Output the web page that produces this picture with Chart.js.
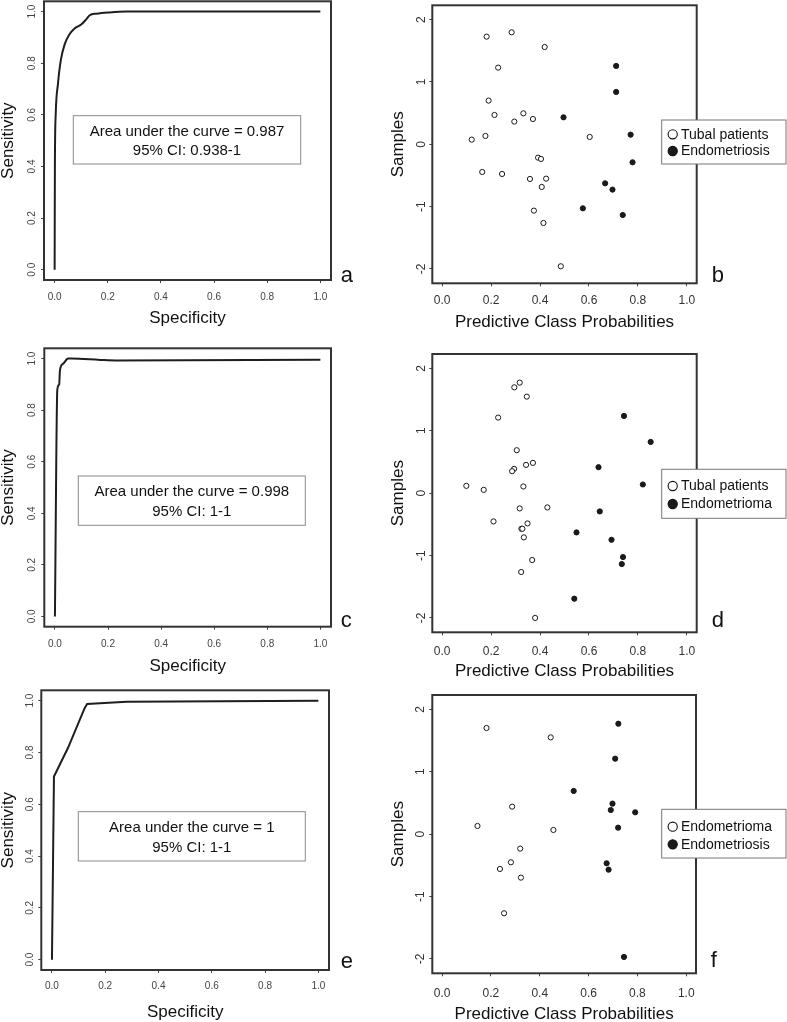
<!DOCTYPE html>
<html><head><meta charset="utf-8">
<script src="https://cdn.jsdelivr.net/npm/chart.js@4.4.1/dist/chart.umd.min.js"></script>
<style>
html,body{margin:0;padding:0;background:#fff;}
body{width:787px;height:1022px;position:relative;overflow:hidden;}
canvas{position:absolute;}
</style></head><body>
<canvas id="pa"></canvas><canvas id="pb"></canvas>
<canvas id="pc"></canvas><canvas id="pd"></canvas>
<canvas id="pe"></canvas><canvas id="pf"></canvas>
<script>
// ---------- tick labels ----------
const rocTicks = [0, 0.2, 0.4, 0.6, 0.8, 1.0];
const probTicks = [0, 0.2, 0.4, 0.6, 0.8, 1.0];
const sampleTicks = [-2, -1, 0, 1, 2];

// ---------- ROC curves ----------
const rocA_spec = [0, 0.001, 0.004, 0.0125, 0.023, 0.038, 0.056, 0.075, 0.1, 0.119, 0.132, 0.157, 0.207, 0.27, 1.0];
const rocA_sens = [0, 0.4, 0.6, 0.72, 0.81, 0.874, 0.912, 0.935, 0.95, 0.97, 0.986, 0.992, 0.997, 1.0, 1.0];
const rocC_spec = [0, 0.009, 0.016, 0.019, 0.031, 0.05, 0.063, 0.17, 0.23, 1.0];
const rocC_sens = [0, 0.88, 0.90, 0.955, 0.98, 1.0, 1.0, 0.995, 0.993, 0.996];
const rocE_spec = [0, 0.0075, 0.06, 0.123, 0.132, 0.28, 1.0];
const rocE_sens = [0, 0.707, 0.817, 0.972, 0.987, 0.996, 1.0];
const aucA = ['Area under the curve = 0.987', '95% CI: 0.938-1'];
const aucC = ['Area under the curve = 0.998', '95% CI: 1-1'];
const aucE = ['Area under the curve = 1', '95% CI: 1-1'];

// ---------- scatter b: Tubal patients vs Endometriosis ----------
const bTubalProb   = [0.182, 0.284, 0.419, 0.229, 0.190, 0.214, 0.332, 0.295, 0.371, 0.121, 0.177, 0.603, 0.392, 0.404, 0.164, 0.245, 0.359, 0.425, 0.407, 0.375, 0.414, 0.485];
const bTubalSample = [1.727, 1.797, 1.561, 1.230, 0.701, 0.471, 0.497, 0.364, 0.406, 0.075, 0.134, 0.118, -0.214, -0.235, -0.444, -0.476, -0.556, -0.551, -0.684, -1.064, -1.262, -1.957];
const bEndoProb    = [0.711, 0.711, 0.496, 0.770, 0.778, 0.666, 0.696, 0.575, 0.738];
const bEndoSample  = [1.257, 0.840, 0.433, 0.155, -0.289, -0.626, -0.727, -1.027, -1.134];

// ---------- scatter d: Tubal patients vs Endometrioma ----------
const dTubalProb   = [0.295, 0.317, 0.346, 0.229, 0.305, 0.343, 0.371, 0.294, 0.286, 0.099, 0.170, 0.332, 0.317, 0.430, 0.210, 0.349, 0.324, 0.328, 0.334, 0.368, 0.323, 0.380];
const dTubalSample = [1.696, 1.771, 1.547, 1.211, 0.688, 0.453, 0.485, 0.389, 0.352, 0.117, 0.053, 0.107, -0.245, -0.229, -0.453, -0.485, -0.571, -0.571, -0.709, -1.072, -1.264, -2.0];
const dEndoProb    = [0.743, 0.852, 0.639, 0.820, 0.644, 0.549, 0.692, 0.739, 0.734, 0.540];
const dEndoSample  = [1.237, 0.821, 0.416, 0.139, -0.293, -0.629, -0.747, -1.024, -1.136, -1.691];

// ---------- scatter f: Endometrioma vs Endometriosis ----------
const fOmaProb     = [0.182, 0.445, 0.287, 0.145, 0.456, 0.320, 0.282, 0.237, 0.323, 0.254];
const fOmaSample   = [1.701, 1.551, 0.441, 0.131, 0.067, -0.232, -0.451, -0.558, -0.697, -1.268];
const fEndoProb    = [0.722, 0.709, 0.539, 0.698, 0.691, 0.791, 0.721, 0.674, 0.682, 0.745];
const fEndoSample  = [1.770, 1.210, 0.692, 0.489, 0.387, 0.350, 0.104, -0.467, -0.569, -1.968];

// ---------- helpers ----------
const FONT = "'Liberation Sans', Arial, Helvetica, sans-serif";
const zip = (xs, ys) => xs.map((x, i) => ({x: x, y: ys[i]}));
const mctx = document.createElement('canvas').getContext('2d');
function widest(labels, size) {
  mctx.font = size + 'px ' + FONT;
  return Math.max(...labels.map(l => mctx.measureText(l).width));
}

const framePlugin = {
  id: 'frame',
  afterDraw(chart) {
    const {ctx, chartArea: a} = chart;
    ctx.save();
    ctx.strokeStyle = '#333'; ctx.lineWidth = 2;
    ctx.strokeRect(a.left, a.top, a.right - a.left, a.bottom - a.top);
    ctx.restore();
  }
};

const extrasPlugin = {
  id: 'extras',
  afterDraw(chart, args, o) {
    const ctx = chart.ctx;
    ctx.save();
    if (o.note) {
      const n = o.note;
      ctx.strokeStyle = '#8a8a8a'; ctx.lineWidth = 1;
      ctx.strokeRect(n.l, n.t, n.r - n.l, n.b - n.t);
      ctx.fillStyle = '#111'; ctx.font = '15px ' + FONT;
      ctx.textAlign = 'center'; ctx.textBaseline = 'middle';
      n.lines.forEach((s, i) => ctx.fillText(s, (n.l + n.r) / 2, n.ys[i]));
    }
    if (o.legend) {
      const g = o.legend;
      ctx.fillStyle = '#fff';
      ctx.fillRect(g.l, g.t, g.r - g.l, g.b - g.t);
      ctx.strokeStyle = '#777'; ctx.lineWidth = 1;
      ctx.strokeRect(g.l, g.t, g.r - g.l, g.b - g.t);
      chart.data.datasets.forEach((ds, i) => {
        const y = g.ys[i];
        ctx.beginPath(); ctx.arc(g.cx, y, 4.6, 0, Math.PI * 2);
        ctx.fillStyle = ds.pointBackgroundColor; ctx.fill();
        ctx.strokeStyle = '#111'; ctx.lineWidth = 1.1; ctx.stroke();
        ctx.fillStyle = '#111'; ctx.font = '14px ' + FONT;
        ctx.textAlign = 'left'; ctx.textBaseline = 'middle';
        ctx.fillText(ds.label, g.tx, y + 0.5);
      });
    }
    if (o.letter) {
      ctx.fillStyle = '#111'; ctx.font = '22px ' + FONT;
      ctx.textAlign = 'left'; ctx.textBaseline = 'alphabetic';
      ctx.fillText(o.letter.text, o.letter.x, o.letter.y);
    }
    ctx.restore();
  }
};

function panel(p) {
  const cv = document.getElementById(p.id);
  cv.width = p.w; cv.height = p.h;
  Object.assign(cv.style, {left: p.x0 + 'px', top: p.y0 + 'px', width: p.w + 'px', height: p.h + 'px'});
  const L = p.box.l - p.x0, R = p.box.r - p.x0, T = p.box.t - p.y0, B = p.box.b - p.y0;
  const tl = 3;
  const xLH = p.tickSize * 1.2;
  const xTickPad = (p.xLabelY - p.y0) - B - tl - xLH / 2;
  const yLabels = p.yTicks.map(p.yFmt);
  const yTickPad = L - tl - widest(yLabels, p.tickSize) / 2 - (p.yLabelX - p.x0);
  const xTitlePad = p.h - 8.5 - (p.xTitleY - p.y0);
  const loc = o => o && Object.assign({}, o);
  const extras = {};
  if (p.note) extras.note = {l: p.note.l - p.x0, r: p.note.r - p.x0, t: p.note.t - p.y0, b: p.note.b - p.y0, ys: p.note.ys.map(v => v - p.y0), lines: p.note.lines};
  if (p.legend) extras.legend = {l: p.legend.l - p.x0, r: p.legend.r - p.x0, t: p.legend.t - p.y0, b: p.legend.b - p.y0, ys: p.legend.ys.map(v => v - p.y0), cx: p.legend.cx - p.x0, tx: p.legend.tx - p.x0};
  extras.letter = {text: p.letter.text, x: p.letter.x - p.x0, y: p.letter.y - p.y0};
  const tickFont = {family: FONT, size: p.tickSize};
  const titleFont = {family: FONT, size: 17, lineHeight: 1};
  new Chart(cv, {
    type: 'scatter',
    data: {datasets: p.datasets},
    options: {
      responsive: false, animation: false, devicePixelRatio: 1,
      layout: {padding: {left: 0, top: T, right: p.w - R, bottom: 0}},
      plugins: {legend: {display: false}, tooltip: {enabled: false}, extras: extras},
      scales: {
        x: {
          type: 'linear', min: p.xMin, max: p.xMax,
          afterBuildTicks: s => { s.ticks = p.xTicks.map(v => ({value: v})); },
          afterFit: s => { s.height = p.h - B; s.paddingLeft = 0; s.paddingRight = 0; },
          border: {display: false},
          grid: {display: true, drawOnChartArea: false, drawTicks: true, tickLength: tl, color: '#444', lineWidth: 1},
          ticks: {font: tickFont, color: p.tickColor, padding: xTickPad, maxRotation: 0, minRotation: 0, autoSkip: false, callback: v => Number(v).toFixed(1)},
          title: {display: true, text: p.xTitle, font: titleFont, color: '#111', padding: {top: 0, bottom: xTitlePad}}
        },
        y: {
          type: 'linear', min: p.yMin, max: p.yMax,
          afterBuildTicks: s => { s.ticks = p.yTicks.map(v => ({value: v})); },
          afterFit: s => { s.width = L; s.paddingTop = 0; s.paddingBottom = 0; },
          border: {display: false},
          grid: {display: true, drawOnChartArea: false, drawTicks: true, tickLength: tl, color: '#444', lineWidth: 1},
          ticks: {font: tickFont, color: p.tickColor, padding: yTickPad, minRotation: 90, maxRotation: 90, crossAlign: 'center', autoSkip: false, callback: v => p.yFmt(v)},
          title: {display: true, text: p.yTitle, font: titleFont, color: '#111', padding: {top: 0, bottom: 0}}
        }
      }
    },
    plugins: [framePlugin, extrasPlugin]
  });
}

function rocSet(xs, ys, mode) {
  return [{label: 'ROC', data: zip(xs, ys), showLine: true, borderColor: '#1e1e1e', borderWidth: 2,
    pointRadius: 0, fill: false, tension: mode === 'monotone' ? 0.4 : 0, cubicInterpolationMode: mode === 'monotone' ? 'monotone' : 'default'}];
}
function scatSet(label, xs, ys, filled) {
  return {label: label, data: zip(xs, ys), showLine: false, pointRadius: 2.6, pointBorderWidth: 1,
    pointBackgroundColor: filled ? '#1a1a1a' : '#ffffff', pointBorderColor: '#1a1a1a'};
}
const fmt1 = v => Number(v).toFixed(1);
const fmt0 = v => String(Math.round(v));

const rocCommon = {w: 390, tickSize: 10, tickColor: '#444', xMin: -0.04, xMax: 1.04, yMin: -0.04, yMax: 1.04,
  xTicks: rocTicks, yTicks: rocTicks, yFmt: fmt1, xTitle: 'Specificity', yTitle: 'Sensitivity'};
const scCommon = {w: 397, tickSize: 12, tickColor: '#333', xMin: -0.04, xMax: 1.04, yMin: -2.23, yMax: 2.23,
  xTicks: probTicks, yTicks: sampleTicks, yFmt: fmt0, xTitle: 'Predictive Class Probabilities', yTitle: 'Samples'};

panel(Object.assign({}, rocCommon, {id: 'pa', x0: 0, y0: 0, h: 332,
  box: {l: 44, r: 331, t: 1.3, b: 280}, xLabelY: 297, yLabelX: 32.2, xTitleY: 318,
  datasets: rocSet(rocA_spec, rocA_sens, 'monotone'),
  note: {l: 73.3, r: 300.7, t: 115.7, b: 164, ys: [131.7, 150.7], lines: aucA},
  letter: {text: 'a', x: 340.7, y: 281.7}}));

panel(Object.assign({}, scCommon, {id: 'pb', x0: 390, y0: 0, h: 332,
  box: {l: 432.3, r: 696.7, t: 5.3, b: 283.3}, xLabelY: 301, yLabelX: 422, xTitleY: 322,
  datasets: [scatSet('Tubal patients', bTubalProb, bTubalSample, false), scatSet('Endometriosis', bEndoProb, bEndoSample, true)],
  legend: {l: 661.7, r: 786, t: 120, b: 164, ys: [134.3, 151], cx: 672.7, tx: 681},
  letter: {text: 'b', x: 711.7, y: 281.7}}));

panel(Object.assign({}, rocCommon, {id: 'pc', x0: 0, y0: 330, h: 350,
  box: {l: 44.3, r: 331, t: 348.3, b: 626.7}, xLabelY: 644, yLabelX: 32.2, xTitleY: 666.7,
  datasets: rocSet(rocC_spec, rocC_sens, 'monotone'),
  note: {l: 78.3, r: 305.3, t: 476, b: 525.3, ys: [492.3, 511.7], lines: aucC},
  letter: {text: 'c', x: 340.7, y: 626.7}}));

panel(Object.assign({}, scCommon, {id: 'pd', x0: 390, y0: 330, h: 350,
  box: {l: 432.3, r: 696.7, t: 354, b: 632.3}, xLabelY: 652, yLabelX: 422, xTitleY: 671,
  datasets: [scatSet('Tubal patients', dTubalProb, dTubalSample, false), scatSet('Endometrioma', dEndoProb, dEndoSample, true)],
  legend: {l: 661.7, r: 786, t: 469.3, b: 518.3, ys: [486, 504], cx: 672.7, tx: 681},
  letter: {text: 'd', x: 711.7, y: 626.7}}));

panel(Object.assign({}, rocCommon, {id: 'pe', x0: 0, y0: 675, h: 349,
  box: {l: 41.3, r: 329, t: 690.3, b: 970}, xLabelY: 986.7, yLabelX: 30.5, xTitleY: 1012,
  datasets: rocSet(rocE_spec, rocE_sens, 'linear'),
  note: {l: 78.3, r: 305.3, t: 811.7, b: 861, ys: [828.3, 847.7], lines: aucE},
  letter: {text: 'e', x: 340.7, y: 968.3}}));

panel(Object.assign({}, scCommon, {id: 'pf', x0: 390, y0: 675, h: 349,
  box: {l: 432.3, r: 696, t: 695, b: 973.3}, xLabelY: 994, yLabelX: 421, xTitleY: 1014,
  datasets: [scatSet('Endometrioma', fOmaProb, fOmaSample, false), scatSet('Endometriosis', fEndoProb, fEndoSample, true)],
  legend: {l: 661.7, r: 786, t: 809.3, b: 858, ys: [826.7, 844.3], cx: 672.7, tx: 681},
  letter: {text: 'f', x: 710.7, y: 966.7}}));
</script>
</body></html>
